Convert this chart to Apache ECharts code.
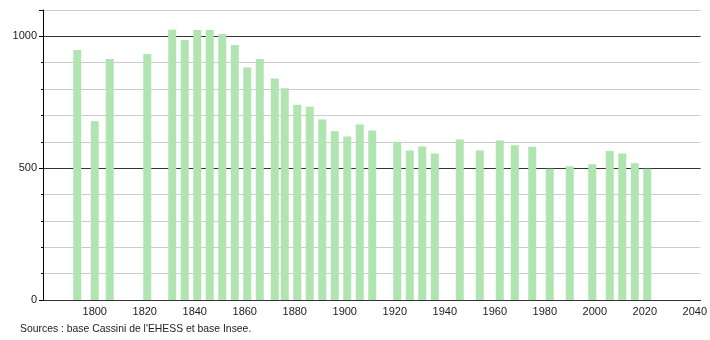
<!DOCTYPE html>
<html>
<head>
<meta charset="utf-8">
<script src="https://cdn.jsdelivr.net/npm/echarts@6/dist/echarts.min.js"></script>
<style>html,body{margin:0;padding:0;background:#fff}#c{width:710px;height:340px}</style>
</head>
<body>
<div id="c"></div>
<script>
const years = [1793,1800,1806,1821,1831,1836,1841,1846,1851,1856,1861,1866,1872,1876,1881,1886,1891,1896,1901,1906,1911,1921,1926,1931,1936,1946,1954,1962,1968,1975,1982,1990,1999,2006,2011,2016,2021];
const population = [948,678,914,933,1025,986,1024,1024,1009,967,882,914,840,803,741,733,685,640,620,666,643,600,567,582,556,609,567,605,587,581,498,507,515,565,556,519,498];
const xTickLabels = [1800,1820,1840,1860,1880,1900,1920,1940,1960,1980,2000,2020,2040];
const yTickLabels = [0,500,1000];
const sourceText = "Sources : base Cassini de l'EHESS et base Insee.";

const font = 'Liberation Sans, Arial, sans-serif';
const chart = echarts.init(document.getElementById('c'), null, {renderer: 'canvas'});
chart.setOption({
  animation: false,
  backgroundColor: '#fff',
  grid: {left: 43, right: 9.3, top: 10, bottom: 40, containLabel: false},
  xAxis: {
    type: 'value', min: 1779.3, max: 2042.3, splitNumber: 13,
    axisLine: {show: true, lineStyle: {color: '#000', width: 1}},
    axisTick: {show: false},
    splitLine: {show: false},
    axisLabel: {
      color: '#222', fontSize: 11, fontFamily: font, margin: 6,
      showMinLabel: false, showMaxLabel: true,
      formatter: v => xTickLabels.indexOf(Math.round(v)) >= 0 && Math.abs(v - Math.round(v)) < 1e-6 ? String(Math.round(v)) : ''
    }
  },
  yAxis: [
    {
      type: 'value', min: 0, max: 1100, interval: 100, position: 'left', z: 0,
      axisLine: {show: false},
      axisTick: {show: true, length: 2, lineStyle: {color: '#000'}},
      axisLabel: {show: false},
      splitLine: {show: true, lineStyle: {color: '#cccccc', width: 1}}
    },
    {
      type: 'value', min: 0, max: 1100, interval: 500, position: 'left', z: 1,
      axisLine: {show: true, onZero: false, lineStyle: {color: '#000', width: 1}},
      axisTick: {show: true, length: 4, lineStyle: {color: ['#000','#000','#000','rgba(0,0,0,0)']}},
      axisLabel: {color: '#222', fontSize: 11, fontFamily: font, margin: 6,
        formatter: v => yTickLabels.indexOf(v) >= 0 ? String(v) : ''},
      splitLine: {show: true, lineStyle: {color: ['#333333','#333333','#333333','#cccccc'], width: 1}}
    }
  ],
  series: [{
    type: 'bar', yAxisIndex: 0, barWidth: 8, z: 3,
    itemStyle: {color: '#b0e4b0'},
    data: years.map((y, i) => [y, population[i]])
  }],
  graphic: [{
    type: 'text', left: 20, top: 324,
    style: {text: sourceText, fill: '#222', font: '10.4px ' + font}
  }]
});
</script>
</body>
</html>
